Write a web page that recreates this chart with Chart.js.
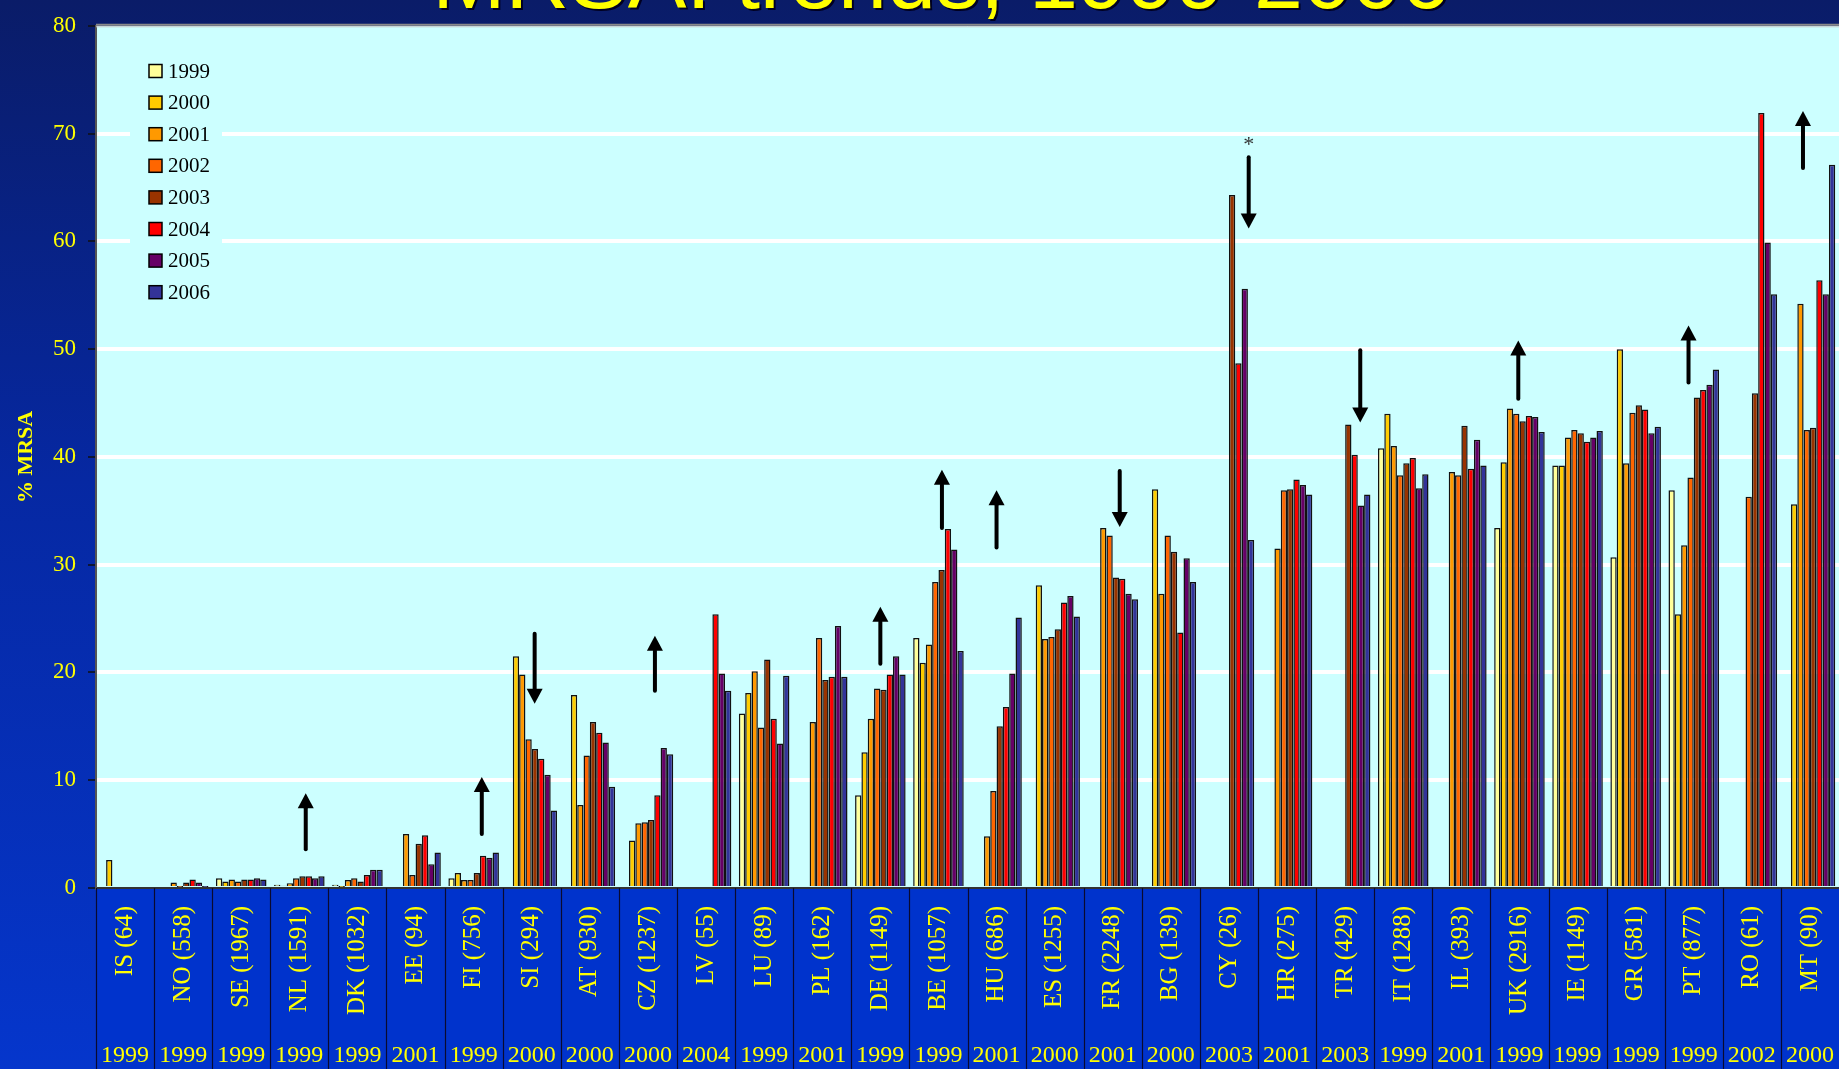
<!DOCTYPE html>
<html lang="en">

<head>
    <meta charset="UTF-8">
    <script src="https://cdn.jsdelivr.net/npm/chart.js"></script>
    <title>MRSA trends</title>
    <style>
        body { margin: 0; background: #001a66; overflow: hidden; }
        canvas { display: block; }
    </style>
</head>

<body>
    <canvas id="grafico" width="1839" height="1069"></canvas>
</body>

</html>

<script>
    var paises = ['IS (64)', 'NO (558)', 'SE (1967)', 'NL (1591)', 'DK (1032)', 'EE (94)', 'FI (756)', 'SI (294)', 'AT (930)', 'CZ (1237)',
        'LV (55)', 'LU (89)', 'PL (162)', 'DE (1149)', 'BE (1057)', 'HU (686)', 'ES (1255)', 'FR (2248)', 'BG (139)', 'CY (26)',
        'HR (275)', 'TR (429)', 'IT (1288)', 'IL (393)', 'UK (2916)', 'IE (1149)', 'GR (581)', 'PT (877)', 'RO (61)', 'MT (90)']
    var anoInicio = ['1999', '1999', '1999', '1999', '1999', '2001', '1999', '2000', '2000', '2000',
        '2004', '1999', '2001', '1999', '1999', '2001', '2000', '2001', '2000', '2003',
        '2001', '2003', '1999', '2001', '1999', '1999', '1999', '1999', '2002', '2000']

    var anos = ['1999', '2000', '2001', '2002', '2003', '2004', '2005', '2006']
    var cores = ['#FFFF99', '#FFCC00', '#FF9900', '#FF6600', '#993300', '#FF0000', '#660066', '#333399']

    var v1999 = [null, null, 0.9, 0.3, 0.3, null, 0.9, null, null, null, null, 16.2, null, 8.6, 23.2, null, null, null, null, null, null, null, 40.8, null, 33.4, 39.2, 30.7, 36.9, null, null]
    var v2000 = [2.6, null, 0.6, 0.2, 0.1, null, 1.4, 21.5, 17.9, 4.4, null, 18.1, null, 12.6, 20.9, null, 28.1, null, 37.0, null, null, null, 44.0, null, 39.5, 39.2, 50.0, 25.4, null, 35.6]
    var v2001 = [null, 0.5, 0.8, 0.45, 0.75, 5.0, 0.75, 19.8, 7.7, 6.0, null, 20.1, 15.4, 15.7, 22.6, 4.8, 23.1, 33.4, 27.3, null, 31.5, null, 41.0, 38.6, 44.5, 41.8, 39.4, 31.8, null, 54.2]
    var v2002 = [null, 0.1, 0.6, 0.9, 0.9, 1.2, 0.75, 13.8, 12.3, 6.1, null, 14.9, 23.2, 18.5, 28.4, 9.0, 23.3, 32.7, 32.7, null, 36.9, null, 38.3, 38.3, 44.0, 42.5, 44.1, 38.1, 36.3, 42.5]
    var v2003 = [null, 0.5, 0.8, 1.1, 0.6, 4.1, 1.4, 12.9, 15.4, 6.3, null, 21.2, 19.3, 18.4, 29.5, 15.0, 24.0, 28.8, 31.2, 64.3, 37.0, 43.0, 39.4, 42.9, 43.3, 42.2, 44.8, 45.5, 45.9, 42.7]
    var v2004 = [null, 0.8, 0.8, 1.1, 1.2, 4.9, 3.0, 12.0, 14.4, 8.6, 25.4, 15.7, 19.6, 19.8, 33.3, 16.8, 26.5, 28.7, 23.7, 48.7, 37.9, 40.2, 39.9, 38.9, 43.8, 41.4, 44.4, 46.2, 71.9, 56.4]
    var v2005 = [null, 0.5, 0.9, 0.9, 1.7, 2.2, 2.8, 10.5, 13.5, 13.0, 19.9, 13.4, 24.3, 21.5, 31.4, 19.9, 27.1, 27.3, 30.6, 55.6, 37.4, 35.5, 37.1, 41.6, 43.7, 41.8, 42.2, 46.7, 59.9, 55.1]
    var v2006 = [null, 0.1, 0.8, 1.1, 1.7, 3.3, 3.3, 7.2, 9.4, 12.4, 18.3, 19.7, 19.6, 19.8, 22.0, 25.1, 25.2, 26.8, 28.4, 32.3, 36.5, 36.5, 38.4, 39.2, 42.3, 42.4, 42.8, 48.1, 55.1, 67.1]
    var valores = [v1999, v2000, v2001, v2002, v2003, v2004, v2005, v2006]

    var yTicks = [0, 10, 20, 30, 40, 50, 60, 70, 80]

    // setas: pais, deslocamento (fracao da categoria), de, ate
    var setas = [
        ['NL (1591)', 0.11, 3.6, 8.8],
        ['FI (756)', 0.14, 5.0, 10.3],
        ['SI (294)', 0.05, 23.6, 17.1],
        ['CZ (1237)', 0.12, 18.3, 23.4],
        ['DE (1149)', 0.0, 20.8, 26.1],
        ['BE (1057)', 0.06, 33.4, 38.8],
        ['HU (686)', 0.0, 31.6, 36.9],
        ['FR (2248)', 0.12, 38.7, 33.5],
        ['CY (26)', 0.34, 67.8, 61.2],
        ['TR (429)', 0.26, 49.9, 43.2],
        ['UK (2916)', -0.02, 45.4, 50.8],
        ['PT (877)', -0.09, 46.9, 52.2],
        ['MT (90)', -0.12, 66.8, 72.1]
    ]
    var asterisco = ['CY (26)', 0.34, 69.3]

    var datasets = []
    for (var i = 0; i < anos.length; i++) {
        datasets.push({
            label: anos[i],
            data: valores[i],
            backgroundColor: cores[i],
            borderColor: '#111',
            borderWidth: 1.5,
            categoryPercentage: 0.87,
            barPercentage: 1.0
        })
    }

    var serif = "'Liberation Serif', 'Times New Roman', serif"

    var fundo = {
        id: 'fundo',
        beforeDraw(chart) {
            var ctx = chart.ctx
            var area = chart.chartArea
            var W = chart.width, H = chart.height
            ctx.save()
            var grad = ctx.createLinearGradient(0, 0, 0, H)
            grad.addColorStop(0, '#0a1c68')
            grad.addColorStop(0.45, '#0628a2')
            grad.addColorStop(1, '#0536cc')
            ctx.fillStyle = grad
            ctx.fillRect(0, 0, W, H)

            // titulo (cortado no topo)
            ctx.font = "88px 'Liberation Sans', Arial, sans-serif"
            ctx.textAlign = 'center'
            ctx.textBaseline = 'alphabetic'
            ctx.fillStyle = '#000022'
            ctx.fillText('MRSA: trends, 1999-2006', 943, 9.5)
            ctx.fillStyle = '#FFFF00'
            ctx.fillText('MRSA: trends, 1999-2006', 941, 8)

            ctx.fillStyle = '#CCFFFF'
            ctx.fillRect(area.left, area.top, area.right - area.left, area.bottom - area.top)
            ctx.fillStyle = '#0033CC'
            ctx.fillRect(area.left, area.bottom, area.right - area.left, H - area.bottom)
            ctx.restore()
        },
        afterDraw(chart) {
            var ctx = chart.ctx
            var area = chart.chartArea
            var x = chart.scales.x
            var y = chart.scales.y
            var H = chart.height
            var larg = (area.right - area.left) / paises.length
            ctx.save()

            // moldura do grafico
            ctx.strokeStyle = '#8a8a8a'
            ctx.lineWidth = 2
            ctx.beginPath()
            ctx.moveTo(area.left, area.top - 1)
            ctx.lineTo(area.right, area.top - 1)
            ctx.stroke()
            ctx.strokeStyle = '#c8c8c8'
            ctx.lineWidth = 1
            ctx.beginPath()
            ctx.moveTo(area.left, area.top + 1)
            ctx.lineTo(area.right, area.top + 1)
            ctx.stroke()

            // separadores e anos
            ctx.strokeStyle = '#0a0a30'
            ctx.lineWidth = 1.2
            ctx.font = '24px ' + serif
            ctx.fillStyle = '#FFFF00'
            ctx.textAlign = 'center'
            ctx.textBaseline = 'alphabetic'
            for (var i = 0; i < paises.length; i++) {
                var cx = x.getPixelForValue(i)
                var xs = Math.round(cx - larg / 2) + 0.5
                ctx.beginPath()
                ctx.moveTo(xs, area.bottom)
                ctx.lineTo(xs, H)
                ctx.stroke()
                ctx.fillText(anoInicio[i], cx, 1062)
            }

            // legenda
            ctx.fillStyle = '#CCFFFF'
            ctx.fillRect(130, 52, 92, 258)
            ctx.font = '21px ' + serif
            ctx.textAlign = 'left'
            ctx.textBaseline = 'middle'
            for (var j = 0; j < anos.length; j++) {
                var ly = 71 + j * 31.6
                ctx.fillStyle = cores[j]
                ctx.fillRect(149, ly - 6.5, 13, 13)
                ctx.strokeStyle = '#000'
                ctx.lineWidth = 1.5
                ctx.strokeRect(149, ly - 6.5, 13, 13)
                ctx.fillStyle = '#000'
                ctx.fillText(anos[j], 168, ly + 1)
            }

            // setas
            ctx.strokeStyle = '#000'
            ctx.fillStyle = '#000'
            ctx.lineWidth = 4
            ctx.lineCap = 'round'
            setas.forEach(function (s) {
                var ax = x.getPixelForValue(paises.indexOf(s[0])) + s[1] * larg
                var y0 = y.getPixelForValue(s[2])
                var y1 = y.getPixelForValue(s[3])
                var dir = y1 < y0 ? 1 : -1
                var base = y1 + dir * 15
                ctx.beginPath()
                ctx.moveTo(ax, y0)
                ctx.lineTo(ax, base)
                ctx.stroke()
                ctx.beginPath()
                ctx.moveTo(ax, y1)
                ctx.lineTo(ax - 8, base)
                ctx.lineTo(ax + 8, base)
                ctx.closePath()
                ctx.fill()
            })
            ctx.font = '22px ' + serif
            ctx.fillStyle = '#333'
            ctx.textAlign = 'center'
            ctx.fillText('*', x.getPixelForValue(paises.indexOf(asterisco[0])) + asterisco[1] * larg, y.getPixelForValue(asterisco[2]) + 4)
            ctx.restore()
        }
    }

    const graph = new Chart(grafico, {
        type: 'bar',
        data: { labels: paises, datasets: datasets },
        options: {
            responsive: false,
            animation: false,
            layout: { padding: { top: 15, left: 0, right: 0, bottom: 0 } },
            plugins: { legend: { display: false }, tooltip: { enabled: false } },
            scales: {
                x: {
                    afterFit: function (scale) {
                        scale.height = 181
                        scale.paddingLeft = 0
                        scale.paddingRight = 0
                    },
                    grid: { display: false },
                    border: { display: true, color: '#333', width: 2 },
                    ticks: {
                        color: '#FFFF00',
                        font: { family: serif, size: 25 },
                        minRotation: 90,
                        maxRotation: 90,
                        autoSkip: false,
                        padding: 10
                    }
                },
                y: {
                    min: 0,
                    max: 80,
                    afterFit: function (scale) { scale.width = 96 },
                    afterBuildTicks: function (scale) { scale.ticks = yTicks.map(function (v) { return { value: v } }) },
                    grid: {
                        color: function (c) { return (c.tick && (c.tick.value === 0 || c.tick.value === 80)) ? 'rgba(0,0,0,0)' : '#FFFFFF' },
                        lineWidth: 4,
                        tickColor: '#111',
                        tickWidth: 1.5,
                        tickLength: 8
                    },
                    border: { display: true, color: '#555', width: 2 },
                    ticks: {
                        color: '#FFFF00',
                        font: { family: serif, size: 23 },
                        padding: 12
                    },
                    title: {
                        display: true,
                        text: '% MRSA',
                        color: '#FFFF00',
                        font: { family: serif, size: 22, weight: 'bold' },
                        padding: { top: 13, bottom: 0 }
                    }
                }
            }
        },
        plugins: [fundo]
    });
</script>
